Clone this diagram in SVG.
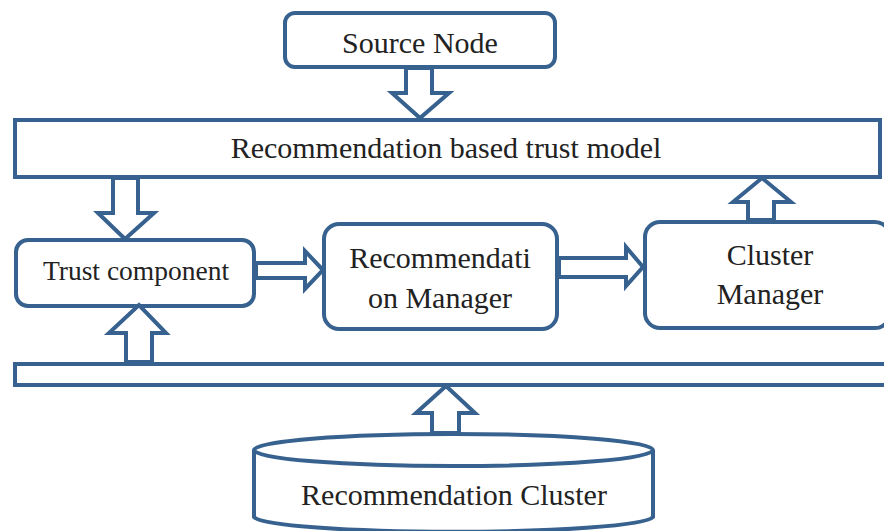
<svg xmlns="http://www.w3.org/2000/svg" width="884" height="531" viewBox="0 0 884 531">
<style>
.box{fill:#fff;stroke:#37618e;stroke-width:4;}
.arr{fill:#fff;stroke:#37618e;stroke-width:4;stroke-linejoin:miter;}
.t{font-family:"Liberation Serif","Times New Roman",serif;font-size:30px;fill:#222;text-anchor:middle;}
.ts{font-size:27.5px;}
</style>
<rect width="884" height="531" fill="#fff"/>
<g id="source-node">
<rect class="box" x="285" y="13" width="270" height="54" rx="10"/>
<text class="t" x="420" y="53">Source Node</text>
</g>
<g id="trust-model">
<rect class="box" x="15" y="120" width="865" height="57"/>
<text class="t" x="446" y="158">Recommendation based trust model</text>
</g>
<g id="bus">
<rect class="box" x="15" y="364" width="880" height="21"/>
</g>
<g id="trust-component">
<rect class="box" x="16" y="240" width="238" height="66" rx="12"/>
<text class="t ts" x="136" y="280">Trust component</text>
</g>
<g id="recommendation-manager">
<rect class="box" x="324" y="224" width="233" height="105" rx="15"/>
<text class="t" x="440" y="268">Recommendati</text>
<text class="t" x="440" y="308">on Manager</text>
</g>
<g id="cluster-manager">
<rect class="box" x="645" y="222" width="245" height="106" rx="15"/>
<text class="t" x="770" y="265">Cluster</text>
<text class="t" x="770" y="304">Manager</text>
</g>
<g id="recommendation-cluster">
<path class="box" d="M254,450 L254,517 A200,16 0 0 0 653,517 L653,450"/>
<ellipse class="box" cx="453.5" cy="450" rx="199.5" ry="16"/>
<text class="t" x="454" y="505">Recommendation Cluster</text>
</g>
<g id="connectors">
<polygon class="arr" points="406,68 432,68 432,93 449,93 420,118 392,93 406,93"/>
<polygon class="arr" points="113,178 138,178 138,213 154,213 125,239 98,213 113,213"/>
<polygon class="arr" points="126,362 152,362 152,333 166,333 139,305 109,333 126,333"/>
<polygon class="arr" points="256,263 305,263 305,251 323,270 305,289 305,278 256,278"/>
<polygon class="arr" points="559,258 626,258 626,247 643,267 626,286 626,277 559,277"/>
<polygon class="arr" points="748,220 774,220 774,202 791,202 762,178 733,202 748,202"/>
<polygon class="arr" points="432,433 459,433 459,413 475,413 446,386 416,413 432,413"/>
</g>
</svg>
